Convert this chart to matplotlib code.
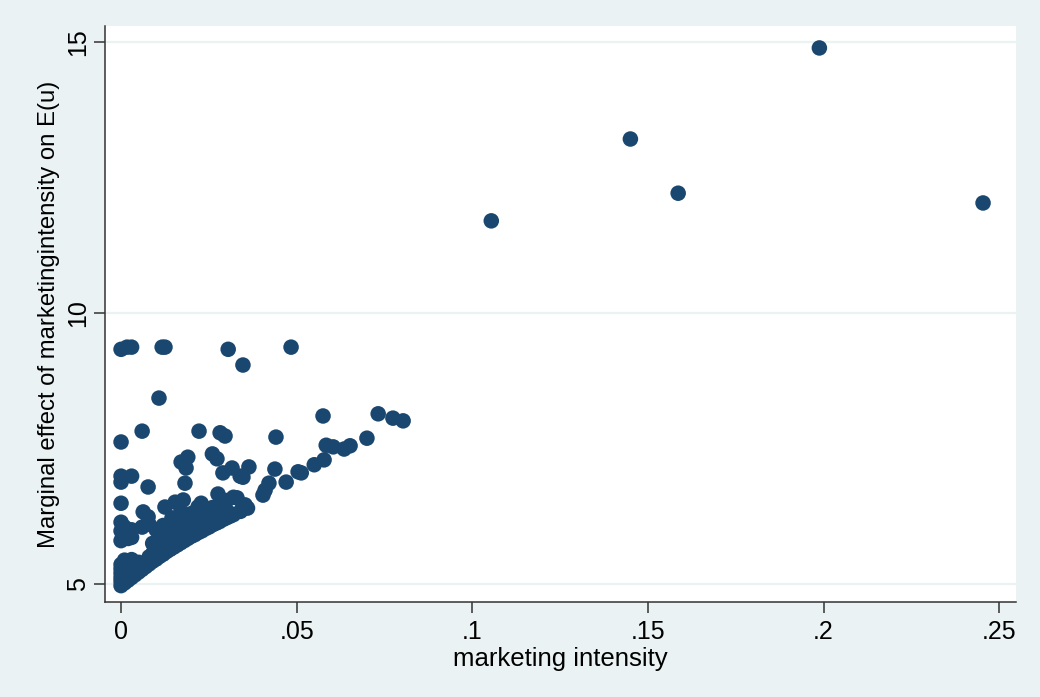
import matplotlib
matplotlib.use("Agg")
import matplotlib.pyplot as plt

plt.rcParams["font.family"] = ["Liberation Sans", "DejaVu Sans"]

# Marketing intensity (x) and marginal effect of marketing intensity on E(u) (y)
intensity = [
    # dense diagonal band near the origin
    0.000, 0.001, 0.002, 0.003, 0.004, 0.005, 0.006, 0.007, 0.008, 0.009,
    0.010, 0.011, 0.012, 0.013, 0.014, 0.015, 0.016, 0.017, 0.018, 0.019,
    0.020, 0.021, 0.022, 0.023, 0.024, 0.025, 0.026, 0.027, 0.028, 0.029,
    0.030, 0.031, 0.032, 0.034, 0.036,
    # second row of the band
    0.008, 0.009, 0.010, 0.011, 0.012, 0.013, 0.014, 0.015, 0.016, 0.017,
    0.018, 0.019, 0.020, 0.021, 0.022, 0.023, 0.024, 0.025, 0.026, 0.027,
    0.028, 0.029, 0.030,
    # third row of the band
    0.010, 0.012, 0.014, 0.016, 0.018, 0.020, 0.022, 0.024, 0.026, 0.028,
    0.030, 0.032,
    # stacked at low intensity
    0.000, 0.000, 0.000, 0.000, 0.000, 0.001, 0.001, 0.002, 0.001,
    0.002, 0.003, 0.004, 0.005, 0.001, 0.003,
    # upper-left blob
    0.000, 0.001, 0.002, 0.003, 0.000, 0.001, 0.000, 0.003,
    # upper part of the cluster
    0.006, 0.008, 0.010, 0.012, 0.014, 0.016, 0.018,
    0.0063, 0.0077, 0.0125, 0.0154, 0.0177, 0.0171, 0.0219, 0.0228, 0.020,
    0.024, 0.026, 0.0276, 0.028, 0.030, 0.033, 0.0353, 0.031, 0.009, 0.011,
    0.0145, 0.019, 0.023,
    # scattered points
    0.000, 0.0017, 0.003, 0.0117, 0.0125, 0.0305, 0.0484, 0.0347,
    0.0108,
    0.000, 0.006, 0.0222, 0.0282, 0.0296, 0.0441,
    0.0171, 0.019, 0.0185, 0.026, 0.0273,
    0.000, 0.003, 0.029, 0.0316, 0.0339, 0.0364, 0.0438, 0.0504,
    0.0575, 0.0732, 0.0774, 0.0803, 0.070,
    0.0584, 0.0604, 0.0635, 0.0652,
    0.0578, 0.055, 0.0513, 0.047, 0.0421, 0.0404, 0.041, 0.0347, 0.0347,
    0.000, 0.0077, 0.000, 0.0182,
    # large intensities
    0.1054, 0.145, 0.1586, 0.1988, 0.2454,
]

marginal_effect = [
    4.97, 5.02, 5.07, 5.12, 5.17, 5.22, 5.27, 5.32, 5.37, 5.42,
    5.46, 5.51, 5.55, 5.60, 5.64, 5.68, 5.72, 5.76, 5.80, 5.84,
    5.88, 5.91, 5.95, 5.98, 6.02, 6.05, 6.09, 6.12, 6.15, 6.19,
    6.22, 6.25, 6.28, 6.34, 6.40,
    5.50, 5.56, 5.60, 5.66, 5.70, 5.75, 5.79, 5.83, 5.87, 5.91,
    5.95, 5.99, 6.03, 6.06, 6.10, 6.13, 6.17, 6.20, 6.24, 6.27,
    6.30, 6.33, 6.36,
    5.78, 5.87, 5.96, 6.04, 6.12, 6.20, 6.27, 6.34, 6.41, 6.47,
    6.54, 6.60,
    5.05, 5.12, 5.20, 5.28, 5.36, 5.15, 5.30, 5.22, 5.44,
    5.38, 5.45, 5.33, 5.40, 5.05, 5.30,
    5.80, 5.88, 5.84, 5.86, 5.98, 6.05, 6.14, 6.00,
    6.05, 6.10, 6.00, 6.08, 6.05, 6.10, 6.12,
    6.33, 6.24, 6.42, 6.51, 6.55, 6.33, 6.42, 6.49, 6.30,
    6.30, 6.25, 6.66, 6.38, 6.35, 6.59, 6.46, 6.30, 5.75, 5.85,
    6.22, 6.20, 6.30,
    9.33, 9.37, 9.37, 9.37, 9.37, 9.33, 9.37, 9.04,
    8.43,
    7.62, 7.82, 7.82, 7.79, 7.73, 7.71,
    7.25, 7.34, 7.14, 7.40, 7.31,
    6.99, 6.99, 7.05, 7.14, 6.99, 7.16, 7.12, 7.07,
    8.10, 8.14, 8.06, 8.01, 7.69,
    7.56, 7.53, 7.49, 7.55,
    7.29, 7.20, 7.05, 6.88, 6.86, 6.64, 6.73, 6.97, 6.44,
    6.88, 6.79, 6.49, 6.86,
    11.70, 13.21, 12.21, 14.89, 12.03,
]

x_ticks = [0, 0.05, 0.10, 0.15, 0.20, 0.25]
x_tick_labels = ["0", ".05", ".1", ".15", ".2", ".25"]
y_ticks = [5, 10, 15]
y_tick_labels = ["5", "10", "15"]

BG = "#EAF2F3"
NAVY = "#1A476F"

fig = plt.figure(figsize=(10.4, 6.97), dpi=100, facecolor=BG)
ax = fig.add_axes([0.101, 0.1363, 0.876, 0.8264], facecolor="white")

ax.scatter(intensity, marginal_effect, s=125, color=NAVY, edgecolors="none",
           zorder=3)

ax.set_xlim(-0.00456, 0.2548)
ax.set_ylim(4.668, 15.295)

ax.set_xticks(x_ticks)
ax.set_xticklabels(x_tick_labels)
ax.set_yticks(y_ticks)
ax.set_yticklabels(y_tick_labels, rotation=90, va="center")

ax.yaxis.grid(True, color=BG, linewidth=1.6, zorder=0)
ax.xaxis.grid(False)
ax.set_axisbelow(True)

for side in ("top", "right"):
    ax.spines[side].set_visible(False)
for side in ("left", "bottom"):
    ax.spines[side].set_color("#333333")
    ax.spines[side].set_linewidth(1.1)

ax.tick_params(axis="both", direction="out", length=8, width=1.1,
               color="#333333", labelsize=18, labelcolor="black")
ax.tick_params(axis="x", pad=5)
ax.tick_params(axis="y", pad=3)

ax.set_xlabel("marketing intensity", fontsize=18.5, labelpad=2)
ax.set_ylabel("Marginal effect of marketingintensity on E(u)", fontsize=17.2,
              labelpad=4)

fig.savefig("out.png", dpi=100, facecolor=BG)
